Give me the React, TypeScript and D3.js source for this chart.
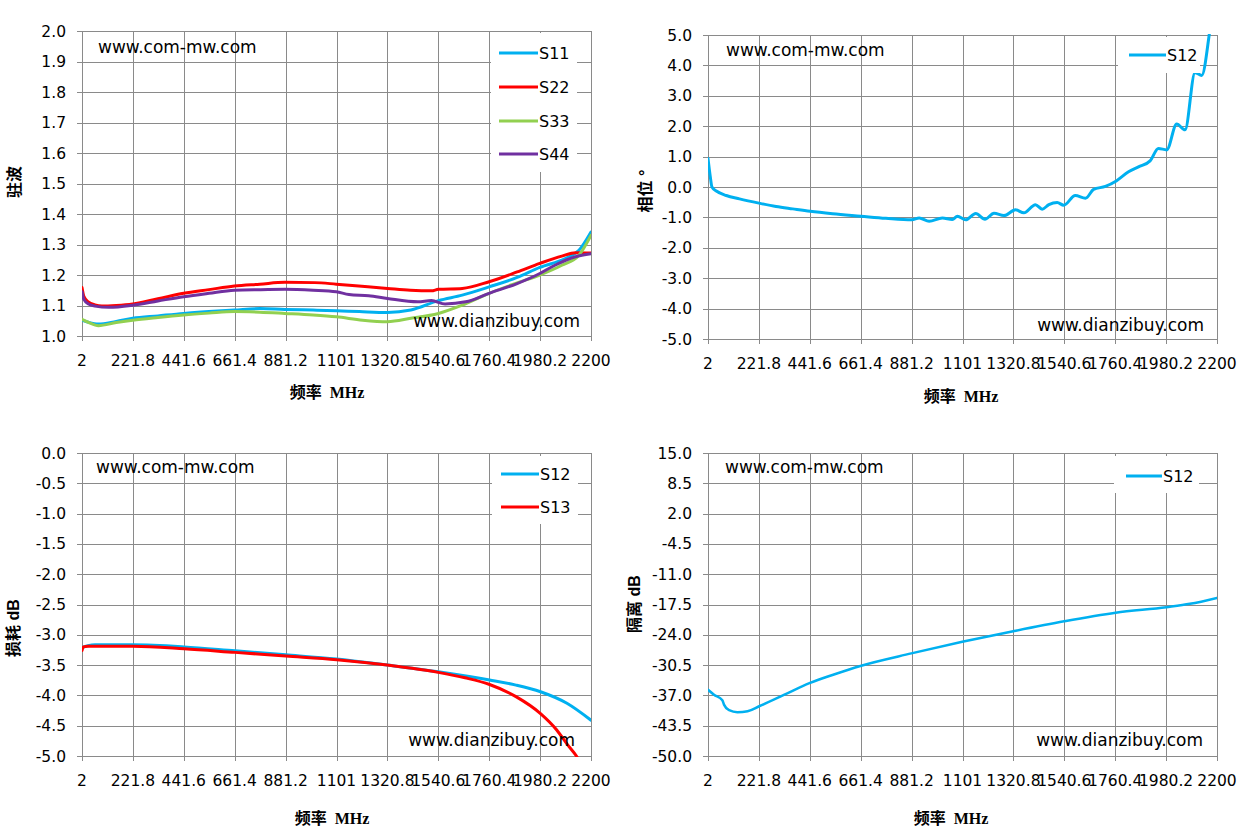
import React from 'react';
import * as d3 from 'd3';

// ---- shared axis values ----
const freqTicks = [2, 221.8, 441.6, 661.4, 881.2, 1101, 1320.8, 1540.6, 1760.4, 1980.2, 2200];
const freqLabels = ['2', '221.8', '441.6', '661.4', '881.2', '1101', '1320.8', '1540.6', '1760.4', '1980.2', '2200'];

const vswrTicks = [1.0, 1.1, 1.2, 1.3, 1.4, 1.5, 1.6, 1.7, 1.8, 1.9, 2.0];
const phaseTicks = [-5, -4, -3, -2, -1, 0, 1, 2, 3, 4, 5];
const lossTicks = [-5.0, -4.5, -4.0, -3.5, -3.0, -2.5, -2.0, -1.5, -1.0, -0.5, 0.0];
const isoTicks = [-50.0, -43.5, -37.0, -30.5, -24.0, -17.5, -11.0, -4.5, 2.0, 8.5, 15.0];

// ---- VSWR (驻波) ----
const s11Freq = [2, 30, 73, 150, 221, 330, 441, 550, 660, 770, 878, 1000, 1100, 1200, 1321, 1422, 1541, 1644, 1760, 1881, 1979, 2089, 2148, 2200];
const s11Vswr = [1.052, 1.045, 1.039, 1.048, 1.058, 1.066, 1.074, 1.080, 1.085, 1.090, 1.087, 1.085, 1.083, 1.080, 1.077, 1.085, 1.116, 1.134, 1.161, 1.192, 1.225, 1.254, 1.281, 1.341];

const s22Freq = [2, 10, 29, 58, 88, 150, 221, 330, 441, 550, 660, 770, 878, 1007, 1100, 1210, 1321, 1420, 1511, 1541, 1644, 1760, 1881, 1979, 2074, 2133, 2200];
const s22Vswr = [1.159, 1.13, 1.112, 1.102, 1.098, 1.100, 1.105, 1.122, 1.140, 1.152, 1.164, 1.170, 1.176, 1.175, 1.170, 1.163, 1.156, 1.150, 1.148, 1.153, 1.156, 1.178, 1.21, 1.238, 1.262, 1.273, 1.272];

const s33Freq = [2, 30, 73, 150, 221, 330, 441, 550, 660, 770, 878, 1000, 1100, 1214, 1321, 1422, 1541, 1644, 1760, 1881, 1979, 2074, 2148, 2200];
const s33Vswr = [1.055, 1.045, 1.034, 1.044, 1.052, 1.061, 1.069, 1.075, 1.080, 1.078, 1.074, 1.069, 1.063, 1.052, 1.047, 1.058, 1.074, 1.101, 1.140, 1.174, 1.200, 1.232, 1.265, 1.33];

const s44Freq = [2, 10, 30, 58, 118, 221, 330, 441, 550, 660, 770, 878, 1000, 1100, 1155, 1240, 1321, 1452, 1511, 1570, 1659, 1760, 1881, 1979, 2044, 2133, 2200];
const s44Vswr = [1.145, 1.12, 1.105, 1.098, 1.094, 1.101, 1.115, 1.129, 1.140, 1.150, 1.152, 1.153, 1.150, 1.145, 1.136, 1.132, 1.123, 1.112, 1.116, 1.105, 1.112, 1.140, 1.172, 1.205, 1.232, 1.26, 1.27];

// ---- phase (相位) ----
const phaseFreq = [2, 12, 19, 38, 81, 138, 222, 296, 368, 443, 540, 662, 770, 882, 914, 957, 1014, 1057, 1079, 1115, 1158, 1198, 1237, 1280, 1330, 1366, 1416, 1445, 1474, 1510, 1538, 1588, 1632, 1667, 1718, 1765, 1818, 1861, 1911, 1947, 1983, 2026, 2062, 2105, 2134, 2170, 2185];
const phaseS12 = [0.94, 0.33, 0.0, -0.13, -0.28, -0.39, -0.53, -0.64, -0.72, -0.80, -0.88, -0.96, -1.03, -1.08, -1.02, -1.13, -1.02, -1.07, -0.96, -1.08, -0.87, -1.06, -0.86, -0.94, -0.75, -0.85, -0.58, -0.73, -0.58, -0.51, -0.60, -0.28, -0.37, -0.08, 0.02, 0.2, 0.5, 0.66, 0.86, 1.27, 1.22, 2.07, 1.88, 3.76, 3.67, 5.2, 6.0];

// ---- insertion loss (损耗) ----
const lossS12Freq = [2, 10, 28, 58, 222, 443, 663, 882, 1102, 1320, 1540, 1762, 1876, 1982, 2096, 2200];
const lossS12 = [-3.22, -3.20, -3.18, -3.166, -3.166, -3.20, -3.265, -3.33, -3.40, -3.50, -3.61, -3.746, -3.83, -3.94, -4.13, -4.41];
const lossS13Freq = [2, 8, 28, 222, 443, 663, 882, 1102, 1320, 1540, 1656, 1762, 1876, 1982, 2052, 2096, 2137, 2200];
const lossS13 = [-3.26, -3.20, -3.19, -3.19, -3.23, -3.29, -3.35, -3.41, -3.50, -3.62, -3.71, -3.82, -4.02, -4.30, -4.57, -4.80, -5.0, -5.45];

// ---- isolation (隔离) ----
const isoFreq = [2, 28, 64, 71, 93, 129, 173, 223, 332, 440, 549, 660, 880, 1100, 1320, 1540, 1762, 1981, 2083, 2200];
const isoS12 = [-35.79, -36.85, -38.06, -38.98, -40.18, -40.61, -40.39, -39.33, -36.85, -34.37, -32.46, -30.68, -27.99, -25.51, -23.24, -21.11, -19.27, -18.07, -17.36, -16.08];

const BLUE = '#00b0f0';
const RED = '#ff0000';
const GREEN = '#92d050';
const PURPLE = '#7030a0';
const GRID = '#8a8a8a';
const LATIN = '"DejaVu Sans", Verdana, sans-serif';

interface Series { name: string; color: string; f: number[]; v: number[]; width: number }
interface Box { l: number; r: number; t: number; b: number }

interface PanelProps {
  id: string;
  box: Box;
  yDomain: [number, number];
  yTicks: number[];
  series: Series[];
  legend: { x0: number; x1: number; y0: number; y1: number; lineX0: number; lineX1: number; rows: number[] };
  yTitle: React.ReactNode;
  yTitleX: number;
  yTitleY: number;
  xTitleX: number;
  xTitleY: number;
  wmTop: [number, number];
  wmBottom: [number, number];
}

function Panel(p: PanelProps) {
  const { box } = p;
  const x = d3.scaleLinear().domain([2, 2200]).range([box.l, box.r]);
  const y = d3.scaleLinear().domain(p.yDomain).range([box.b, box.t]);
  const line = d3.line<[number, number]>()
    .x(d => x(d[0]))
    .y(d => y(d[1]))
    .curve(d3.curveMonotoneX);
  const px = (v: number) => Math.round(v) + 0.5;

  return (
    <g>
      <defs>
        <clipPath id={p.id}>
          <rect x={box.l} y={box.t - 1} width={box.r - box.l} height={box.b - box.t + 2} />
        </clipPath>
      </defs>

      {/* grid + ticks */}
      <g stroke={GRID} strokeWidth={1} shapeRendering="crispEdges">
        {p.yTicks.map(t => (
          <line key={'y' + t} x1={box.l - 5} x2={box.r} y1={px(y(t))} y2={px(y(t))} />
        ))}
        {freqTicks.map(t => (
          <line key={'x' + t} x1={px(x(t))} x2={px(x(t))} y1={box.t} y2={box.b + 5} />
        ))}
      </g>

      {/* tick labels */}
      <g fontFamily={LATIN} fontSize={15.5} fill="#000">
        {p.yTicks.map(t => (
          <text key={'yl' + t} x={box.l - 16} y={y(t) + 5.5} textAnchor="end">{t.toFixed(1)}</text>
        ))}
        {freqTicks.map((t, i) => (
          <text key={'xl' + t} x={x(t)} y={box.b + 30} textAnchor="middle">{freqLabels[i]}</text>
        ))}
      </g>

      {/* data */}
      <g clipPath={`url(#${p.id})`} fill="none" strokeLinejoin="round" strokeLinecap="round">
        {p.series.map(s => (
          <path key={s.name} d={line(d3.zip(s.f, s.v) as [number, number][]) || ''} stroke={s.color} strokeWidth={s.width} />
        ))}
      </g>

      {/* watermarks */}
      <g fontFamily={LATIN} fontSize={17} fill="#000">
        <text x={p.wmTop[0]} y={p.wmTop[1] + 6}>www.com-mw.com</text>
        <text x={p.wmBottom[0]} y={p.wmBottom[1] + 6} textAnchor="end">www.dianzibuy.com</text>
      </g>

      {/* legend */}
      <rect x={p.legend.x0} y={p.legend.y0} width={p.legend.x1 - p.legend.x0} height={p.legend.y1 - p.legend.y0} fill="#fff" />
      {p.series.map((s, i) => (
        <g key={'lg' + s.name}>
          <line x1={p.legend.lineX0} x2={p.legend.lineX1} y1={p.legend.rows[i]} y2={p.legend.rows[i]} stroke={s.color} strokeWidth={3} />
          <text x={p.legend.lineX1 + 1} y={p.legend.rows[i] + 6} fontFamily={LATIN} fontSize={16}>{s.name}</text>
        </g>
      ))}

      {/* axis titles */}
      <text
        transform={`translate(${p.yTitleX},${p.yTitleY}) rotate(-90)`}
        textAnchor="middle"
        dominantBaseline="central"
        fontWeight="bold"
        fontSize={16}
        fontFamily='"Liberation Sans", "Noto Sans CJK SC", sans-serif'
      >
        {p.yTitle}
      </text>
      <text
        x={p.xTitleX}
        y={p.xTitleY + 6}
        textAnchor="middle"
        fontWeight="bold"
        fontSize={16}
        fontFamily='"Liberation Serif", "Noto Sans CJK SC", serif'
      >
        频率<tspan dx={8}>MHz</tspan>
      </text>
    </g>
  );
}

export default function App() {
  const leftX = { l: 82, r: 591 };
  const rightX = { l: 708, r: 1217 };
  return (
    <svg width={1252} height={838} style={{ position: 'absolute', left: 0, top: 0, background: '#fff' }}>
      <rect width={1252} height={838} fill="#fff" />
      <Panel
        id="clip-vswr"
        box={{ ...leftX, t: 31, b: 336 }}
        yDomain={[1.0, 2.0]}
        yTicks={vswrTicks}
        series={[
          { name: 'S11', color: BLUE, f: s11Freq, v: s11Vswr, width: 3 },
          { name: 'S22', color: RED, f: s22Freq, v: s22Vswr, width: 3 },
          { name: 'S33', color: GREEN, f: s33Freq, v: s33Vswr, width: 3 },
          { name: 'S44', color: PURPLE, f: s44Freq, v: s44Vswr, width: 3 },
        ]}
        legend={{ x0: 491, x1: 577, y0: 33, y1: 172, lineX0: 499, lineX1: 538, rows: [53, 87, 121, 154] }}
        yTitle="驻波"
        yTitleX={14}
        yTitleY={182}
        xTitleX={327}
        xTitleY={392}
        wmTop={[98, 47]}
        wmBottom={[580, 321]}
      />
      <Panel
        id="clip-phase"
        box={{ ...rightX, t: 35, b: 339 }}
        yDomain={[-5, 5]}
        yTicks={phaseTicks}
        series={[{ name: 'S12', color: BLUE, f: phaseFreq, v: phaseS12, width: 3 }]}
        legend={{ x0: 1118, x1: 1200, y0: 37, y1: 73, lineX0: 1129, lineX1: 1166, rows: [55] }}
        yTitle="相位 °"
        yTitleX={645}
        yTitleY={191}
        xTitleX={961}
        xTitleY={396}
        wmTop={[726, 50]}
        wmBottom={[1204, 325]}
      />
      <Panel
        id="clip-loss"
        box={{ ...leftX, t: 453, b: 756 }}
        yDomain={[-5, 0]}
        yTicks={lossTicks}
        series={[
          { name: 'S12', color: BLUE, f: lossS12Freq, v: lossS12, width: 3 },
          { name: 'S13', color: RED, f: lossS13Freq, v: lossS13, width: 3 },
        ]}
        legend={{ x0: 492, x1: 578, y0: 456, y1: 524, lineX0: 501, lineX1: 539, rows: [474, 507] }}
        yTitle="损耗 dB"
        yTitleX={13}
        yTitleY={628}
        xTitleX={332}
        xTitleY={818}
        wmTop={[96, 467]}
        wmBottom={[575, 740]}
      />
      <Panel
        id="clip-iso"
        box={{ ...rightX, t: 453, b: 756 }}
        yDomain={[-50, 15]}
        yTicks={isoTicks}
        series={[{ name: 'S12', color: BLUE, f: isoFreq, v: isoS12, width: 2.5 }]}
        legend={{ x0: 1114, x1: 1199, y0: 456, y1: 493, lineX0: 1126, lineX1: 1162, rows: [476] }}
        yTitle="隔离 dB"
        yTitleX={634}
        yTitleY={604}
        xTitleX={951}
        xTitleY={818}
        wmTop={[725, 467]}
        wmBottom={[1203, 740]}
      />
    </svg>
  );
}
